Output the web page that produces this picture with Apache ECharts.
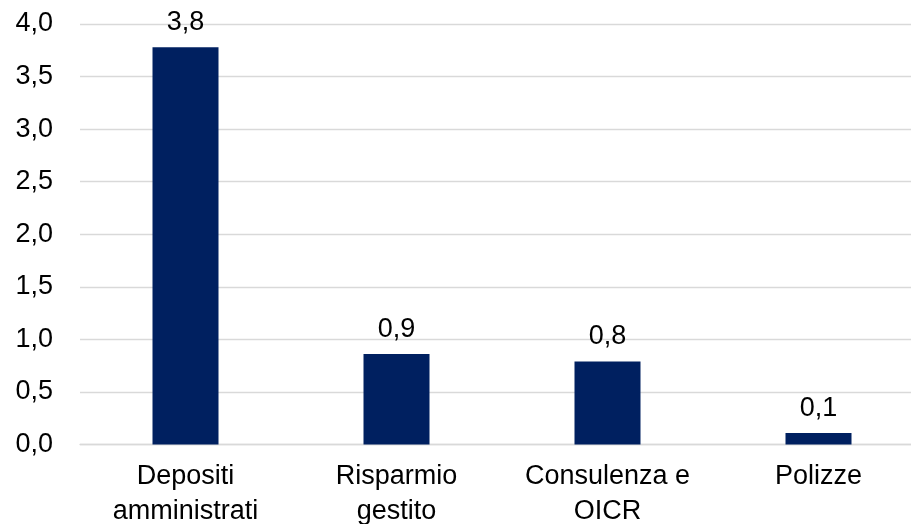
<!DOCTYPE html>
<html>
<head>
<meta charset="utf-8">
<title>Bar chart</title>
<script src="https://cdn.jsdelivr.net/npm/echarts@6/dist/echarts.min.js"></script>
<style>
  html, body { margin: 0; padding: 0; background: #fff; }
  #chart { width: 911px; height: 524px; }
</style>
</head>
<body>
<div id="chart"></div>
<script>
// Categories along the x axis
const categories = ['Depositi\namministrati', 'Risparmio\ngestito', 'Consulenza e\nOICR', 'Polizze'];
// Bar values
const values = [3.78, 0.86, 0.79, 0.11];
// Value axis range
const yMin = 0;
const yMax = 4;
const yStep = 0.5;

const fmt = v => Number(v).toFixed(1).replace('.', ',');
const FONT = '"Liberation Sans", Arial, sans-serif';

const chart = echarts.init(document.getElementById('chart'), null, { renderer: 'canvas' });
chart.setOption({
  animation: false,
  backgroundColor: '#ffffff',
  grid: {
    left: 80,
    right: -13,
    top: 24,
    bottom: 79.5,
    containLabel: false,
    outerBoundsMode: 'none'
  },
  xAxis: {
    type: 'category',
    data: categories,
    axisTick: { show: false },
    axisLine: { show: true, lineStyle: { color: '#d9d9d9', width: 1.3 } },
    axisLabel: {
      color: '#000',
      fontFamily: FONT,
      fontSize: 27,
      lineHeight: 35,
      margin: 15,
      interval: 0
    }
  },
  yAxis: {
    type: 'value',
    min: yMin,
    max: yMax,
    interval: yStep,
    axisLine: { show: false },
    axisTick: { show: false },
    splitLine: { lineStyle: { color: '#d9d9d9', width: 1.3 } },
    axisLabel: {
      color: '#000',
      fontFamily: FONT,
      fontSize: 27,
      margin: 27,
      formatter: fmt
    }
  },
  series: [{
    type: 'bar',
    data: values,
    barWidth: 66,
    itemStyle: { color: '#002060' },
    label: {
      show: true,
      position: 'top',
      distance: 11,
      color: '#000',
      fontFamily: FONT,
      fontSize: 27,
      formatter: p => fmt(p.value)
    }
  }]
});
</script>
</body>
</html>
